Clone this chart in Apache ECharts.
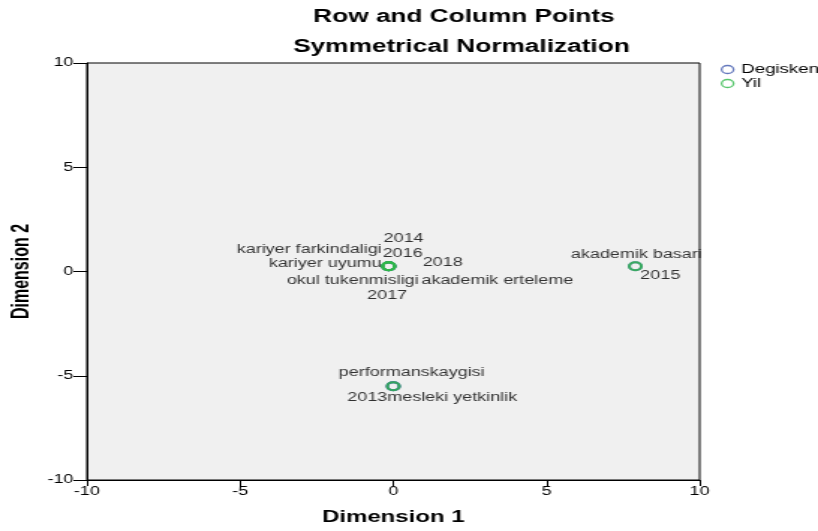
<!DOCTYPE html>
<html>
<head>
<meta charset="utf-8">
<script src="https://cdn.jsdelivr.net/npm/echarts@6/dist/echarts.min.js"></script>
<style>
html,body{margin:0;padding:0;overflow:hidden;background:#fff;width:818px;height:531px;}
#wrap{width:818px;height:531px;overflow:hidden;}
#chart{width:546px;height:531px;transform-origin:0 0;transform:scaleX(1.49817);}
</style>
</head>
<body>
<div id="wrap"><div id="chart"></div></div>
<script>
// ---- data ----
const degNames = ['kariyer farkindaligi','kariyer uyumu','okul tukenmisligi','akademik erteleme','performanskaygisi','mesleki yetkinlik','akademik basari'];
const degX = [-0.15,-0.15,-0.15,-0.15,0,0,7.9];
const degY = [0.25,0.25,0.25,0.25,-5.5,-5.5,0.25];
const yilNames = ['2013','2014','2015','2016','2017','2018'];
const yilX = [0,-0.15,7.9,-0.15,-0.15,-0.15];
const yilY = [-5.5,0.25,0.25,0.25,0.25,0.25];
const axisMin = -10, axisMax = 10, axisStep = 5;
const seriesNames = ['Degisken','Yil'];
const titleLines = ['Row and Column Points','Symmetrical Normalization'];
const axisNames = ['Dimension 1','Dimension 2'];

// ---- label placement (styling only) ----
const labelPlace = {
  'kariyer farkindaligi': {align:'right', offset:[-4.7,-17]},
  'kariyer uyumu': {align:'right', offset:[-4.7,-2.5]},
  'okul tukenmisligi': {align:'right', offset:[20,14]},
  'akademik erteleme': {align:'left', offset:[21.8,14]},
  'performanskaygisi': {align:'center', offset:[12.3,-13]},
  'mesleki yetkinlik': {align:'left', offset:[-4,12]},
  'akademik basari': {align:'center', offset:[0.7,-12]},
  '2013': {align:'right', offset:[-4,12]},
  '2014': {align:'center', offset:[10,-28]},
  '2015': {align:'left', offset:[3.3,9]},
  '2016': {align:'left', offset:[-4,-13]},
  '2017': {align:'center', offset:[-1,29]},
  '2018': {align:'left', offset:[22.7,-4]}
};

const FONT = '"Liberation Sans", Arial, Helvetica, sans-serif';
const colors = ['#3E58AC','#2EB848'];

function build(names, xs, ys){
  return names.map((n,i)=>({
    name:n,
    value:[xs[i], ys[i]],
    label:{
      show:true,
      position:'inside',
      align:labelPlace[n].align,
      verticalAlign:'middle',
      offset:labelPlace[n].offset
    }
  }));
}

function mkSeries(name, data, color){
  return {
    name:name,
    type:'scatter',
    symbol:'circle',
    symbolSize:8,
    itemStyle:{color:'rgba(0,0,0,0)', borderColor:color, borderWidth:2},
    label:{show:true, formatter:'{b}', color:'#000', fontSize:12, fontFamily:FONT},
    emphasis:{disabled:true},
    data:data
  };
}

const chart = echarts.init(document.getElementById('chart'));
chart.setOption({
  animation:false,
  title:[
    {text:titleLines[0], left:309.7, top:8, padding:0, textAlign:'center',
     textStyle:{fontSize:17.5, fontWeight:'bold', color:'#000', fontFamily:FONT}},
    {text:titleLines[1], left:308, top:38, padding:0, textAlign:'center',
     textStyle:{fontSize:17.5, fontWeight:'bold', color:'#000', fontFamily:FONT}}
  ],
  legend:{
    data:seriesNames,
    orient:'vertical',
    left:481, top:63,
    padding:0,
    icon:'circle',
    itemWidth:8, itemHeight:8, itemGap:1,
    itemStyle:{borderWidth:1.3},
    textStyle:{fontSize:12.5, lineHeight:13, color:'#000', fontFamily:FONT}
  },
  grid:{
    left:58, top:63, width:409, height:417,
    outerBoundsMode:'none', containLabel:false,
    show:true, backgroundColor:'#f0f0f0', borderColor:'#000', borderWidth:1
  },
  xAxis:{
    type:'value', min:axisMin, max:axisMax, interval:axisStep,
    name:axisNames[0], nameLocation:'middle', nameGap:30, nameMoveOverlap:false,
    nameTextStyle:{fontSize:16, fontWeight:'bold', color:'#000', fontFamily:FONT},
    axisLine:{onZero:false, lineStyle:{color:'#000', width:1}},
    axisTick:{show:true, length:6, lineStyle:{color:'#000'}},
    axisLabel:{margin:6, fontSize:12, color:'#000', fontFamily:FONT},
    splitLine:{show:false}
  },
  yAxis:{
    type:'value', min:axisMin, max:axisMax, interval:axisStep,
    name:axisNames[1], nameLocation:'middle', nameGap:35, nameMoveOverlap:false,
    nameTextStyle:{fontSize:16, fontWeight:'bold', color:'#000', fontFamily:FONT},
    axisLine:{onZero:false, lineStyle:{color:'#000', width:1}},
    axisTick:{show:true, length:9, lineStyle:{color:'#000'}},
    axisLabel:{margin:9, fontSize:12, color:'#000', fontFamily:FONT},
    splitLine:{show:false}
  },
  series:[
    mkSeries(seriesNames[0], build(degNames, degX, degY), colors[0]),
    mkSeries(seriesNames[1], build(yilNames, yilX, yilY), colors[1])
  ]
});
</script>
</body>
</html>
